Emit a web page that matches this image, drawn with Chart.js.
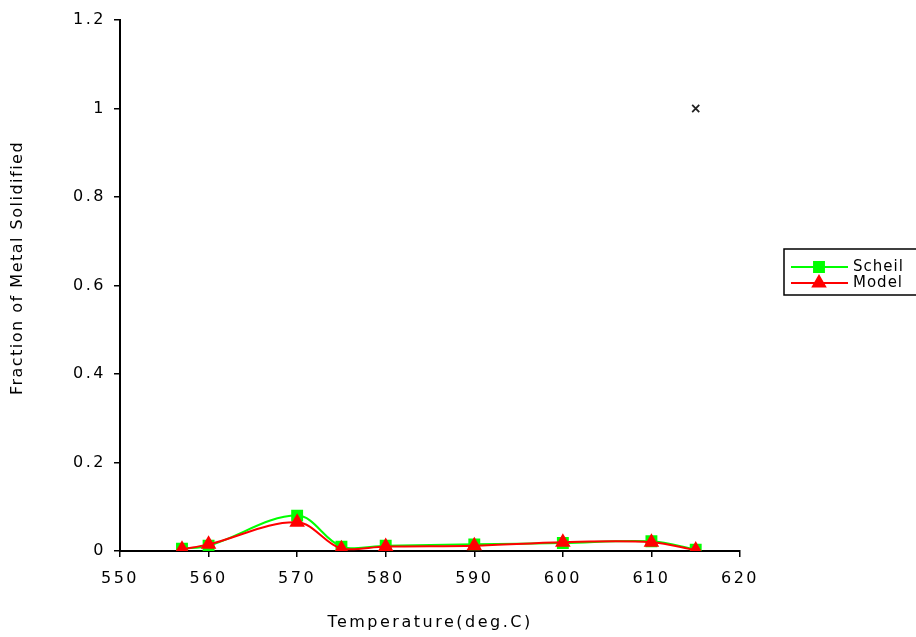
<!DOCTYPE html>
<html>
<head>
<meta charset="utf-8">
<script src="https://cdn.jsdelivr.net/npm/chart.js@4/dist/chart.umd.min.js"></script>
<style>
	html, body { margin: 0; padding: 0; background: #fff; }
	canvas { display: block; }
</style>
</head>
<body>
<canvas id="chart" width="916" height="637"></canvas>
<script>
// values
const temperatures = [557, 560, 570, 575, 580, 590, 600, 610, 615];
const scheilValues = [0.005, 0.012, 0.08, 0.01, 0.012, 0.015, 0.018, 0.022, 0.003];
const modelValues = [0.004, 0.015, 0.065, 0.005, 0.01, 0.012, 0.02, 0.02, 0.002];
const extraPointX = [615];
const extraPointY = [1];
const xTicks = [550, 560, 570, 580, 590, 600, 610, 620];
const yTicks = [0, 0.2, 0.4, 0.6, 0.8, 1, 1.2];
const yTitle = 'Fraction of Metal Solidified';

const fontFamily = "'DejaVu Sans', 'Liberation Sans', Arial, sans-serif";

function toPoints(xs, ys) {
	return xs.map((x, i) => ({ x: x, y: ys[i] }));
}

// legend drawn as a box with line + marker, like the original
const boxLegend = {
	id: 'boxLegend',
	afterDraw(chart) {
		const ctx = chart.ctx;
		const items = chart.data.datasets.filter(d => d.inLegend);
		const left = 784, top = 249, rowH = 16;
		ctx.save();
		ctx.strokeStyle = '#000';
		ctx.lineWidth = 1.5;
		ctx.strokeRect(left, top, 150, 46);
		ctx.font = '15px ' + fontFamily;
		ctx.letterSpacing = '1px';
		ctx.textBaseline = 'middle';
		items.forEach((d, i) => {
			const y = top + 18 + i * rowH;
			ctx.strokeStyle = d.borderColor;
			ctx.lineWidth = 2;
			ctx.beginPath();
			ctx.moveTo(left + 7, y);
			ctx.lineTo(left + 64, y);
			ctx.stroke();
			ctx.fillStyle = d.pointBackgroundColor;
			ctx.strokeStyle = d.pointBorderColor;
			Chart.helpers.drawPoint(ctx, {
				pointStyle: d.pointStyle,
				radius: d.pointRadius,
				borderWidth: 1
			}, left + 35, y);
			ctx.fillStyle = '#000';
			ctx.fillText(d.label, left + 69, y);
		});
		ctx.restore();
	}
};

const yTitleText = {
	id: 'yTitleText',
	afterDraw(chart) {
		const ctx = chart.ctx;
		ctx.save();
		ctx.translate(18, 268);
		ctx.rotate(-Math.PI / 2);
		ctx.font = '16px ' + fontFamily;
		ctx.letterSpacing = '1.5px';
		ctx.fillStyle = '#000';
		ctx.textAlign = 'center';
		ctx.textBaseline = 'middle';
		ctx.fillText(yTitle, 0, 0);
		ctx.restore();
	}
};

const spacedText = {
	id: 'spacedText',
	beforeDraw(chart) {
		chart.ctx.letterSpacing = '2.5px';
	}
};

const config = {
	type: 'line',
	data: {
		datasets: [
			{
				label: 'Scheil',
				inLegend: true,
				data: toPoints(temperatures, scheilValues),
				borderColor: '#00ff00',
				backgroundColor: '#00ff00',
				pointBackgroundColor: '#00ff00',
				pointBorderColor: '#00ff00',
				pointStyle: 'rect',
				pointRadius: 7,
				borderWidth: 2,
				tension: 0.35,
				order: 2
			},
			{
				label: 'Model',
				inLegend: true,
				data: toPoints(temperatures, modelValues),
				borderColor: '#ff0000',
				backgroundColor: '#ff0000',
				pointBackgroundColor: '#ff0000',
				pointBorderColor: '#ff0000',
				pointStyle: 'triangle',
				pointRadius: 7,
				borderWidth: 2,
				tension: 0.35,
				order: 1
			},
			{
				label: '',
				inLegend: false,
				data: toPoints(extraPointX, extraPointY),
				showLine: false,
				borderColor: '#000',
				pointBorderColor: '#222',
				pointStyle: 'crossRot',
				pointRadius: 5,
				pointBorderWidth: 1.8,
				order: 0
			}
		]
	},
	options: {
		responsive: false,
		animation: false,
		events: [],
		layout: { padding: { top: 20, right: 176, bottom: 0, left: 0 } },
		plugins: {
			legend: { display: false },
			tooltip: { enabled: false }
		},
		scales: {
			x: {
				type: 'linear',
				min: 550,
				max: 620,
				afterBuildTicks: scale => { scale.ticks = xTicks.map(v => ({ value: v })); },
				afterFit: scale => { scale.height = 86; },
				grid: { drawOnChartArea: false, drawTicks: true, tickLength: 6, color: '#000', lineWidth: 1.5 },
				border: { color: '#000', width: 2 },
				ticks: { color: '#000', padding: 12, font: { family: fontFamily, size: 16 }, maxRotation: 0 },
				title: {
					display: true,
					text: 'Temperature(deg.C)',
					color: '#000',
					font: { family: fontFamily, size: 16 },
					padding: { top: 0, bottom: 5 }
				}
			},
			y: {
				min: 0,
				max: 1.2,
				afterBuildTicks: scale => { scale.ticks = yTicks.map(v => ({ value: v })); },
				afterFit: scale => { scale.width = 120; },
				grid: { drawOnChartArea: false, drawTicks: true, tickLength: 6, color: '#000', lineWidth: 1.5 },
				border: { color: '#000', width: 2 },
				ticks: {
					color: '#000',
					padding: 8,
					font: { family: fontFamily, size: 16 },
					callback: v => String(Math.round(v * 10) / 10)
				},
				title: { display: false }
			}
		}
	},
	plugins: [spacedText, boxLegend, yTitleText]
};

const chart = new Chart(document.getElementById('chart'), config);
</script>
</body>
</html>
